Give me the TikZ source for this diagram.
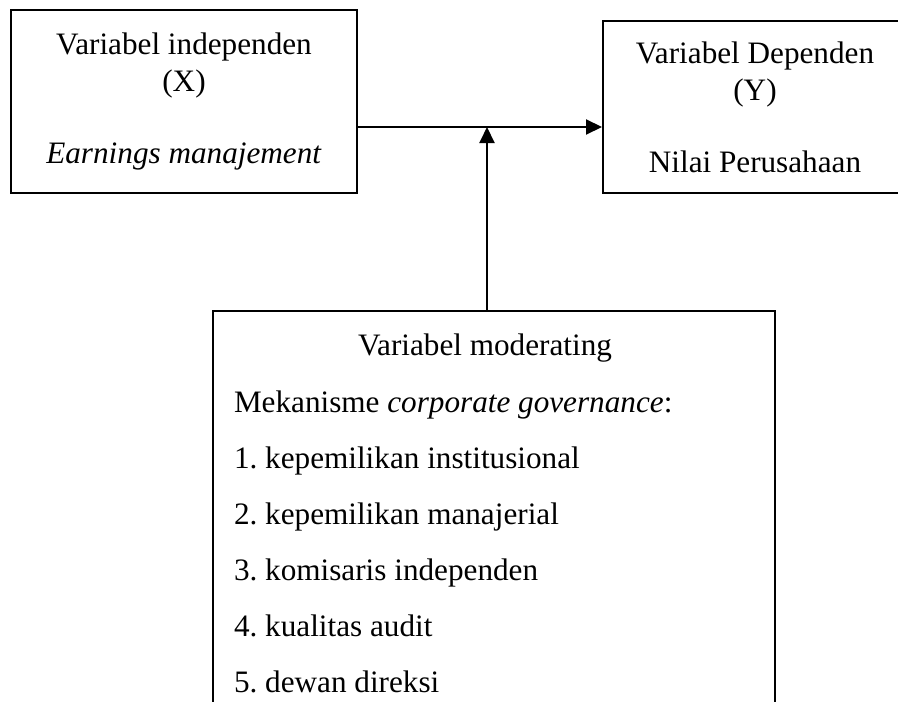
\documentclass[tikz,border=0pt]{standalone}
\usepackage{fontspec}
\setmainfont{Liberation Serif}
\usetikzlibrary{arrows.meta}
\frenchspacing

\begin{document}
\begin{tikzpicture}[line width=1pt,font=\fontsize{15.6}{18.5}\selectfont,
  box/.style={draw,align=center,inner sep=0pt},
  item/.style={anchor=base west,inner sep=0pt},
  >={Triangle[length=8pt,width=7.5pt]}]
\clip (0,0) rectangle (449pt,-350.5pt);
\node [box,minimum width=173pt,minimum height=91.5pt] (indep) at (92pt,-50.75pt) {Variabel independen\\(X)\\[17.5pt]\textit{Earnings manajement}};
\node [box,minimum width=152pt,minimum height=86pt] (dep) at (377.5pt,-53.5pt) {Variabel Dependen\\(Y)\\[17.5pt]Nilai Perusahaan};
\node [box,minimum width=281pt,minimum height=204.5pt] (mod) at (247pt,-257.75pt) {};

\node [anchor=base,inner sep=0pt] (modtitle) at (242.5pt,-177.5pt) {Variabel moderating};
\node [item] (mek) at (116.5pt,-206pt) {Mekanisme \textit{corporate governance}:};
\node [item,at=(mek.base west),yshift=-28pt] (k1) {1. kepemilikan institusional};
\node [item,at=(k1.base west),yshift=-28pt] (k2) {2. kepemilikan manajerial};
\node [item,at=(k2.base west),yshift=-28pt] (k3) {3. komisaris independen};
\node [item,at=(k3.base west),yshift=-28pt] (k4) {4. kualitas audit};
\node [item,at=(k4.base west),yshift=-28pt] (k5) {5. dewan direksi};

\coordinate (meet) at (243.5pt,-63.5pt);
\draw [->] (indep.east |- meet) -- (dep.west |- meet);
\draw [->] (mod.north -| meet) -- (meet);
\end{tikzpicture}
\end{document}
